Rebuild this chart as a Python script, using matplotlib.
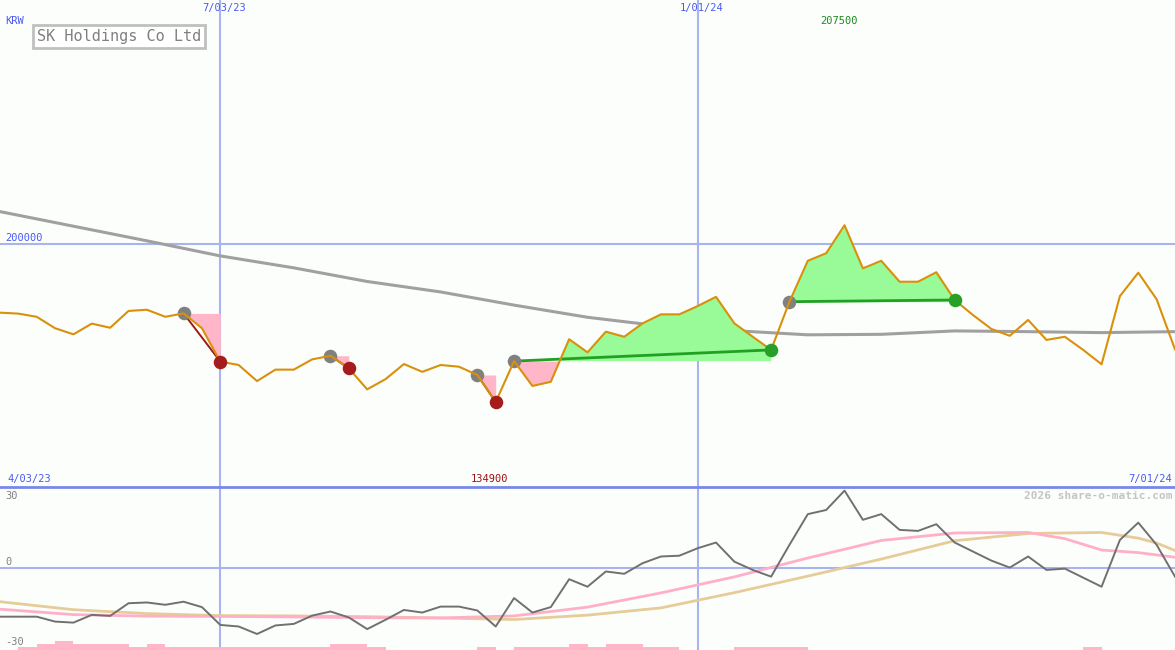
import matplotlib
matplotlib.use("Agg")
import matplotlib.pyplot as plt
from matplotlib.lines import Line2D
import numpy as np

# weekly closes, 64 weeks (index 0 = first week on chart)
prices = [171600, 171200, 169900, 165200, 162700, 167100, 165400, 172300, 172800, 169900,
          171300, 165200, 151500, 150100, 143500, 148200, 148200, 152400, 153900, 148700,
          140100, 144300, 150500, 147300, 150100, 149400, 146000, 134900, 151700, 141500,
          143200, 160700, 155300, 163800, 161700, 167200, 170900, 170900, 174300, 178100,
          167200, 161700, 156300, 176100, 192900, 196000, 207500, 189800, 192900, 184300,
          184300, 188200, 176800, 170600, 164900, 162100, 168600, 160400, 161700, 156300,
          150400, 178400, 188000, 177100, 156500]

ma_weeks = [0, 4, 8, 12, 16, 20, 24, 28, 32, 36, 40, 44, 48, 52, 56, 60, 64]
ma_values = [213100, 207100, 201100, 194900, 190000, 184400, 180100, 174700, 169700,
             166100, 164200, 162500, 162700, 164100, 163800, 163400, 163800]

sell_signals = [(10, 12), (18, 19), (26, 27)]
buy_signals = [(28, 42), (43, 52)]

date_labels = ["7/03/23", "1/01/24"]
date_weeks = [12, 38]
range_labels = ["4/03/23", "7/01/24"]

# lower panel indicators
momentum = [-19.0, -19.0, -19.0, -20.9, -21.3, -18.3, -18.7, -13.8, -13.5, -14.4,
            -13.2, -15.3, -22.2, -22.8, -25.7, -22.4, -21.8, -18.6, -17.0, -19.3,
            -23.8, -20.2, -16.4, -17.4, -15.1, -15.1, -16.6, -22.8, -11.8, -17.4,
            -15.3, -4.5, -7.4, -1.5, -2.4, 1.7, 4.3, 4.6, 7.5, 9.7,
            2.3, -0.9, -3.5, 8.8, 20.7, 22.3, 29.8, 18.5, 20.7, 14.6,
            14.2, 16.8, 9.7, 6.2, 2.7, 0.0, 4.3, -0.9, -0.4, -3.9,
            -7.4, 10.7, 17.4, 8.8, -3.5]
pink_weeks = [0, 4, 8, 12, 16, 20, 24, 28, 32, 36, 40, 44, 48, 52, 56, 58, 60, 62, 64]
pink_values = [-16.1, -18.2, -18.8, -18.9, -19.1, -19.4, -19.5, -18.7, -15.3, -9.8,
               -3.6, 3.7, 10.5, 13.4, 13.6, 11.2, 6.8, 5.8, 4.0]
tan_weeks = [0, 4, 8, 12, 16, 20, 24, 28, 32, 36, 40, 44, 48, 52, 56, 60, 62, 63, 64]
tan_values = [-13.2, -16.3, -17.8, -18.6, -18.7, -19.0, -19.5, -20.1, -18.4, -15.6,
              -9.7, -3.3, 3.3, 10.4, 13.2, 13.6, 11.4, 9.5, 6.6]
vol_levels = [0, 1, 2, 3, 2, 2, 2, 1, 2, 1, 1, 1, 1, 1, 1, 1, 1, 1, 2, 2,
              1, 0, 0, 0, 0, 0, 1, 0, 1, 1, 1, 2, 1, 2, 2, 1, 1, 0, 0, 0,
              1, 1, 1, 1, 0, 0, 0, 0, 0, 0, 0, 0, 0, 0, 0, 0, 0, 0, 0, 1,
              0, 0, 0, 0]

BG = "#fcfefc"
GRID = "#a8b4f0"
ORANGE = "#d9900a"
PINK = "#ffb6c8"
GREEN_FILL = "#98fb98"
MONO = "DejaVu Sans Mono"

W, H = 1175, 650
fig = plt.figure(figsize=(W / 100, H / 100), dpi=100, facecolor=BG)
split = 487

ax = fig.add_axes([0, (H - split) / H, 1, split / H], facecolor=BG)
ax2 = fig.add_axes([0, 0, 1, (H - split) / H], facecolor=BG)
for a in (ax, ax2):
    for s in a.spines.values():
        s.set_visible(False)
    a.set_xticks([])
    a.set_yticks([])
    a.set_xlim(0, len(prices) - 1)

weeks = np.arange(len(prices))
p = np.array(prices)

ax.set_ylim(100000, 300000)
ax.axhline(200000, color=GRID, lw=1.5, zorder=1)
for wk in date_weeks:
    ax.axvline(wk, color=GRID, lw=1.5, zorder=1)
    ax2.axvline(wk, color=GRID, lw=1.5, zorder=1)

ax.plot(ma_weeks, ma_values, color="#a0a0a0", lw=2.2, zorder=2)

for s, e in sell_signals + buy_signals:
    xs = weeks[s:e + 1]
    ys = p[s:e + 1]
    lvl = prices[s]
    ax.fill_between(xs, lvl, ys, where=ys >= lvl, interpolate=True, color=GREEN_FILL, lw=0, zorder=3)
    ax.fill_between(xs, lvl, ys, where=ys <= lvl, interpolate=True, color=PINK, lw=0, zorder=3)

for s, e in sell_signals:
    ax.plot([s, e], [prices[s], prices[e]], color="#a01818", lw=1.4, zorder=4)
for s, e in buy_signals:
    ax.plot([s, e], [prices[s], prices[e]], color="#22a022", lw=2, zorder=4)

starts = [s for s, e in sell_signals + buy_signals]
ax.scatter(starts, [prices[i] for i in starts], s=95, color="#808080", zorder=4.5, lw=0)
ax.scatter([e for s, e in sell_signals], [prices[e] for s, e in sell_signals],
           s=95, color="#a51c1c", zorder=6, lw=0)
ax.scatter([e for s, e in buy_signals], [prices[e] for s, e in buy_signals],
           s=95, color="#28a028", zorder=6, lw=0)

ax.plot(weeks, prices, color=ORANGE, lw=1.5, zorder=5)

# lower panel
lo, hi = -31.9, 31.2
ax2.set_ylim(lo, hi)
ax2.axhline(0, color=GRID, lw=1.5, zorder=1)
ax2.bar(np.arange(len(vol_levels)), np.array(vol_levels) * 1.15, width=1.0, bottom=lo,
        align="edge", color=PINK, lw=0, zorder=2)
ax2.plot(tan_weeks, tan_values, color="#e6cc98", lw=2, zorder=3)
ax2.plot(pink_weeks, pink_values, color="#ffb0c8", lw=2, zorder=3)
ax2.plot(weeks, momentum, color="#707070", lw=1.4, zorder=4)

fig.add_artist(Line2D([0, 1], [(H - split) / H] * 2, transform=fig.transFigure,
                      color="#7888ea", lw=2))


def ftext(px, py, s, **kw):
    fig.text(px / W, 1 - py / H, s, va="center", family=MONO, **kw)


blue = "#4a5af0"
ftext(5, 21, "KRW", color=blue, fontsize=7.5)
for wk, lab in zip(date_weeks, date_labels):
    ftext(wk * W / (len(prices) - 1) + 4, 8, lab, color=blue, fontsize=7.5, ha="center")
ftext(5, 238, "200000", color=blue, fontsize=7.5)
imax = int(np.argmax(p))
imin = int(np.argmin(p))
ftext(imax * W / (len(prices) - 1) - 6, 21, str(prices[imax]), color="#1a8a1a", fontsize=7.5, ha="center")
ftext(imin * W / (len(prices) - 1) - 6, 479, str(prices[imin]), color="#a01010", fontsize=7.5, ha="center")
ftext(7, 479, range_labels[0], color=blue, fontsize=7.5)
ftext(1172, 479, range_labels[1], color=blue, fontsize=7.5, ha="right")
ftext(1172, 496, "2026 share-o-matic.com", color="#c4c4c4", fontsize=8, ha="right", weight="bold")
ftext(5, 496, "30", color="#808080", fontsize=7.5)
ftext(5, 562, "0", color="#808080", fontsize=7.5)
ftext(5, 642, "-30", color="#808080", fontsize=7.5)

fig.text(37 / W, 1 - 36.5 / H, "SK Holdings Co Ltd", va="center", ha="left", family=MONO,
         fontsize=11, color="#808080",
         bbox=dict(boxstyle="square,pad=0.25", fc="white", ec="#c0c0c0", lw=2))

fig.savefig("out.png", dpi=100, facecolor=BG)
